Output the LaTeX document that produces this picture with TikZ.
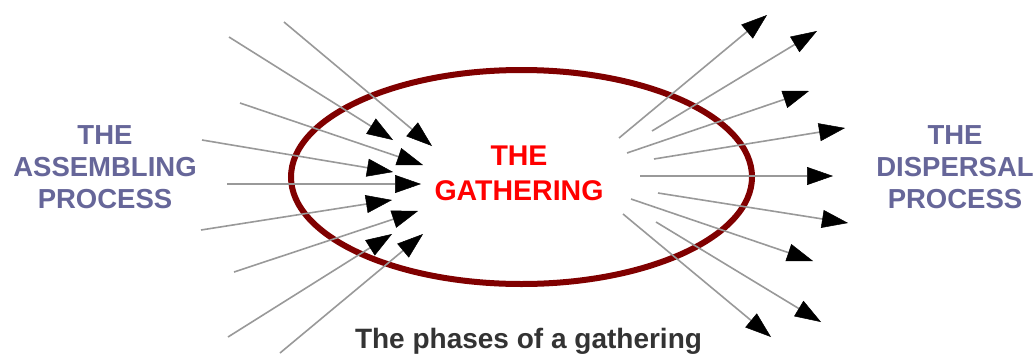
\documentclass[tikz,border=0pt]{standalone}
\usepackage{fontspec}
\setmainfont{Liberation Sans}
\usetikzlibrary{arrows.meta,shapes.geometric}
\definecolor{slate}{HTML}{666699}
\definecolor{ellred}{HTML}{800000}
\definecolor{linegray}{HTML}{999999}
\definecolor{captiongray}{HTML}{333333}
\tikzset{
  flow/.style={draw=linegray, line width=1.6pt, -{Triangle[length=26pt,width=18pt,black,line width=0.5pt]}},
  side/.style={text=slate, font=\fontsize{27.5}{32}\selectfont\bfseries, align=center, inner sep=0pt},
  centre/.style={text=red, font=\fontsize{28.5}{35}\selectfont\bfseries, align=center, inner sep=0pt},
  caption/.style={text=captiongray, font=\fontsize{28}{32}\selectfont\bfseries, inner sep=0pt, anchor=base}
}
\begin{document}
\begin{tikzpicture}[x=1pt,y=-1pt]
\useasboundingbox (0,0) rectangle (1033,354);
\fill[white] (0,0) rectangle (1033,354);
\node[draw=ellred, line width=6pt, ellipse, minimum width=461pt, minimum height=214pt, inner sep=0pt] (ell) at (521.5,177) {};
% incoming
\coordinate (a1) at (284,22);  \coordinate (A1) at (432,146);
\coordinate (a2) at (229,37);  \coordinate (A2) at (393,140);
\coordinate (a3) at (240,103); \coordinate (A3) at (423,165);
\coordinate (a4) at (202,140); \coordinate (A4) at (393,172);
\coordinate (a5) at (227,184); \coordinate (A5) at (421,184);
\coordinate (a6) at (201,230); \coordinate (A6) at (392,200);
\coordinate (a7) at (234,272); \coordinate (A7) at (418,211);
\coordinate (a8) at (228,337); \coordinate (A8) at (392,234);
\coordinate (a9) at (280,353); \coordinate (A9) at (423,234);
\foreach \i in {1,...,9} {\draw[flow] (a\i) -- (A\i);}
% outgoing
\coordinate (b1) at (619,138); \coordinate (B1) at (767,15);
\coordinate (b2) at (652,131); \coordinate (B2) at (817,31);
\coordinate (b3) at (627,153); \coordinate (B3) at (809,91);
\coordinate (b4) at (654,159); \coordinate (B4) at (845,128);
\coordinate (b5) at (640,176); \coordinate (B5) at (833,176);
\coordinate (b6) at (658,193); \coordinate (B6) at (848,223);
\coordinate (b7) at (631,199); \coordinate (B7) at (813,261);
\coordinate (b8) at (656,222); \coordinate (B8) at (821,322);
\coordinate (b9) at (623,214); \coordinate (B9) at (771,337);
\foreach \i in {1,...,9} {\draw[flow] (b\i) -- (B\i);}
\node[side, anchor=base] (assemble) at (105,208) {THE\\ASSEMBLING\\PROCESS};
\node[side, anchor=base] (disperse) at (955,208) {THE\\DISPERSAL\\PROCESS};
\node[centre, anchor=base] (gather) at (519,200) {THE\\GATHERING};
\node[caption] (cap) at (528.5,348) {The phases of a gathering};
\end{tikzpicture}
\end{document}
